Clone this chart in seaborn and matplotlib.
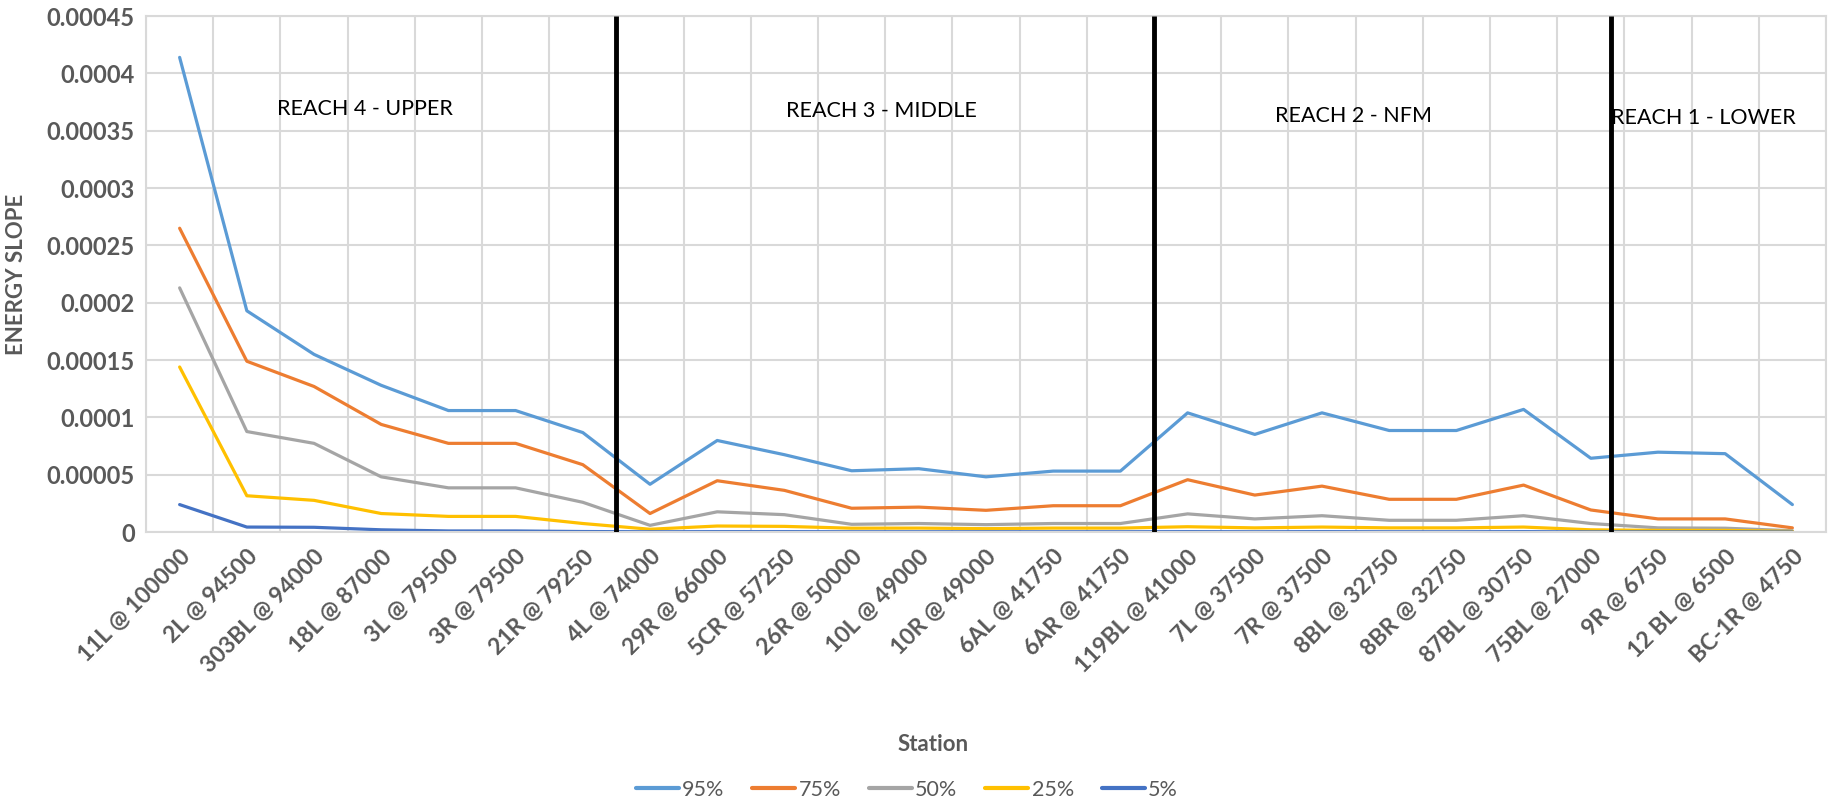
import matplotlib
matplotlib.use("Agg")
import matplotlib.pyplot as plt
import seaborn as sns
import pandas as pd
import numpy as np

stations = [
    "11L @ 100000", "2L @ 94500", "303BL @ 94000", "18L @ 87000", "3L @ 79500",
    "3R @ 79500", "21R @ 79250", "4L @ 74000", "29R @ 66000", "5CR @ 57250",
    "26R @ 50000", "10L @ 49000", "10R @ 49000", "6AL @ 41750", "6AR @ 41750",
    "119BL @ 41000", "7L @ 37500", "7R @ 37500", "8BL @ 32750", "8BR @ 32750",
    "87BL @ 30750", "75BL @ 27000", "9R @ 6750", "12 BL @ 6500", "BC-1R @ 4750",
]

p95 = [0.000414, 0.000193, 0.000155, 0.000128, 0.000106, 0.000106, 0.0000868,
       0.0000417, 0.0000799, 0.0000675, 0.0000535, 0.0000553, 0.0000482, 0.0000532,
       0.0000532, 0.000104, 0.0000852, 0.000104, 0.0000886, 0.0000886, 0.000107,
       0.0000644, 0.0000697, 0.0000684, 0.000024]
p75 = [0.000265, 0.000149, 0.000127, 0.0000939, 0.0000774, 0.0000774, 0.0000588,
       0.0000162, 0.0000448, 0.0000364, 0.0000208, 0.0000218, 0.000019, 0.000023,
       0.000023, 0.0000457, 0.0000323, 0.0000401, 0.0000286, 0.0000286, 0.000041,
       0.0000193, 0.0000115, 0.0000115, 0.0000037]
p50 = [0.000213, 0.0000877, 0.0000774, 0.0000482, 0.0000386, 0.0000386, 0.000026,
       0.0000059, 0.0000177, 0.0000152, 0.0000068, 0.0000075, 0.0000065, 0.0000075,
       0.0000075, 0.0000159, 0.0000115, 0.0000143, 0.0000103, 0.0000103, 0.0000143,
       0.0000075, 0.0000037, 0.0000034, 0.0000012]
p25 = [0.000144, 0.0000317, 0.0000277, 0.0000162, 0.0000137, 0.0000137, 0.0000075,
       0.0000025, 0.0000053, 0.000005, 0.0000034, 0.0000035, 0.000003, 0.0000035,
       0.0000035, 0.0000047, 0.0000037, 0.0000044, 0.0000037, 0.0000037, 0.0000044,
       0.000002, 0.0000015, 0.0000015, 0.0000006]
p5 = [0.000024, 0.0000044, 0.0000042, 0.000002, 0.000001, 0.000001, 0.0000005,
      0.0000003, 0.0000004, 0.0000004, 0.0000003, 0.0000003, 0.0000003, 0.0000003,
      0.0000003, 0.0000004, 0.0000003, 0.0000004, 0.0000003, 0.0000003, 0.0000004,
      0.0000002, 0.0000002, 0.0000002, 0.0000001]

series_names = ["95%", "75%", "50%", "25%", "5%"]
series_colors = ["#5B9BD5", "#ED7D31", "#A5A5A5", "#FFC000", "#4472C4"]

# reach boundaries (in station-index units) and reach titles
reach_bounds = [6.5, 14.5, 21.3]
reach_names = ["REACH 4 - UPPER", "REACH 3 - MIDDLE", "REACH 2 - NFM", "REACH 1 - LOWER"]
reach_label_x = [2.76, 10.44, 17.47, 22.68]
reach_label_y = [0.000369, 0.000367, 0.000363, 0.000361]

idx = np.arange(len(stations))
frames = []
for name, vals in zip(series_names, [p95, p75, p50, p25, p5]):
    frames.append(pd.DataFrame({"pos": idx, "value": vals, "series": name}))
df = pd.concat(frames, ignore_index=True)

sns.set_theme(style="white")
plt.rcParams["font.family"] = ["Lato", "DejaVu Sans"]
grey = "#595959"

fig = plt.figure(figsize=(18.3, 8.05), dpi=100)
ax = fig.add_axes([0.0798, 0.339, 0.918, 0.641])

sns.lineplot(data=df, x="pos", y="value", hue="series", hue_order=series_names,
             palette=series_colors, linewidth=2.3, ax=ax, legend=True, sort=False)

for xb in reach_bounds:
    ax.plot([xb, xb], [0, 0.00045], color="black", linewidth=3.5, zorder=5,
            solid_capstyle="butt")

for name, lx, ly in zip(reach_names, reach_label_x, reach_label_y):
    ax.text(lx, ly, name, ha="center", va="center", fontsize=15.5, color="black")

ax.set_xlim(-0.5, len(stations) - 0.5)
ax.set_ylim(0, 0.00045)
ax.set_yticks(np.arange(0, 0.00045001, 0.00005))
ax.set_yticklabels(["0", "0.00005", "0.0001", "0.00015", "0.0002", "0.00025",
                    "0.0003", "0.00035", "0.0004", "0.00045"])
ax.set_xticks(idx)
ax.set_xticklabels(stations, rotation=45, ha="right", rotation_mode="anchor")
ax.set_xticks(np.arange(-0.5, len(stations), 1.0), minor=True)

ax.grid(False)
ax.grid(True, which="minor", axis="x", color="#D9D9D9", linewidth=1.5)
ax.grid(True, which="major", axis="y", color="#D9D9D9", linewidth=1.5)
ax.set_axisbelow(True)

for s in ax.spines.values():
    s.set_color("#D9D9D9")
    s.set_linewidth(1.5)

ax.tick_params(axis="both", which="both", length=0)
ax.tick_params(axis="x", pad=10)
ax.tick_params(axis="y", pad=8)
for lab in ax.get_xticklabels():
    lab.set_fontsize(16.5)
    lab.set_fontweight("bold")
    lab.set_color(grey)
for lab in ax.get_yticklabels():
    lab.set_fontsize(17)
    lab.set_fontweight("bold")
    lab.set_color(grey)

ax.set_xlabel("")
ax.set_ylabel("ENERGY SLOPE", fontsize=16, fontweight="bold", color=grey)
ax.yaxis.set_label_coords(-0.071, 0.5)
fig.text(0.510, 0.075, "Station", ha="center", va="center", fontsize=16,
         fontweight="bold", color=grey)

handles, labels = ax.get_legend_handles_labels()
for h in handles:
    h.set_linewidth(3)
ax.legend(handles, labels, loc="center", bbox_to_anchor=(0.4955, 0.019),
          bbox_transform=fig.transFigure, ncol=5, frameon=False, fontsize=15.5,
          handlelength=2.0, columnspacing=1.3, handletextpad=0.15, labelcolor=grey)

fig.savefig("out.png", dpi=100, facecolor="white")
